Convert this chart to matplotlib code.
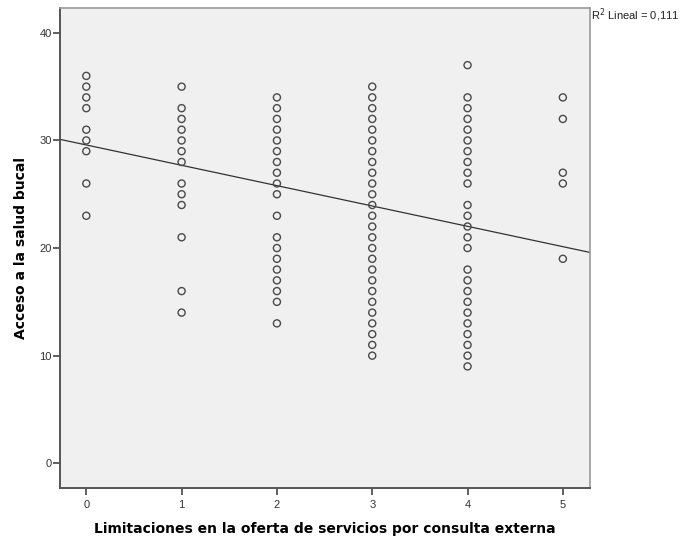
import matplotlib
matplotlib.use("Agg")
import matplotlib.pyplot as plt
import numpy as np

# observed values per category (x = limitaciones, y = acceso)
ACCESS_0 = [36, 35, 34, 33, 31, 30, 29, 26, 23]
ACCESS_1 = [35, 33, 32, 31, 30, 29, 28, 26, 25, 24, 21, 16, 14]
ACCESS_2 = [34, 33, 32, 31, 30, 29, 28, 27, 26, 25, 23, 21, 20, 19, 18, 17, 16, 15, 13]
ACCESS_3 = [35, 34, 33, 32, 31, 30, 29, 28, 27, 26, 25, 24, 23, 22, 21, 20, 19, 18, 17,
            16, 15, 14, 13, 12, 11, 10]
ACCESS_4 = [37, 34, 33, 32, 31, 30, 29, 28, 27, 26, 24, 23, 22, 21, 20, 18, 17, 16, 15,
            14, 13, 12, 11, 10, 9]
ACCESS_5 = [34, 32, 27, 26, 19]
CATEGORIES = [0, 1, 2, 3, 4, 5]

# linear fit
FIT_INTERCEPT = 29.58
FIT_SLOPE = -1.89
R2_TEXT = "R$^2$ Lineal = 0,111"

X_LABEL = "Limitaciones en la oferta de servicios por consulta externa"
Y_LABEL = "Acceso a la salud bucal"


def main():
    columns = [ACCESS_0, ACCESS_1, ACCESS_2, ACCESS_3, ACCESS_4, ACCESS_5]
    xs, ys = [], []
    for cat, vals in zip(CATEGORIES, columns):
        xs += [cat] * len(vals)
        ys += vals

    fig = plt.figure(figsize=(6.81, 5.40), dpi=100)
    ax = fig.add_axes([0.0881, 0.0963, 0.7783, 0.8887])
    ax.set_facecolor("#F0F0F0")

    ax.scatter(xs, ys, s=26, facecolors="none", edgecolors="#4a4a4a",
               linewidths=1.0, zorder=3)

    xlim = (-0.276, 5.285)
    ax.set_xlim(*xlim)
    ax.set_ylim(-2.3, 42.3)
    lx = np.array(xlim)
    ax.plot(lx, FIT_INTERCEPT + FIT_SLOPE * lx, color="#333333", linewidth=0.9, zorder=2)

    ax.set_xticks(CATEGORIES)
    ax.set_yticks([0, 10, 20, 30, 40])
    ax.tick_params(direction="out", length=5, width=1.2, color="#444444",
                   labelsize=8, labelcolor="#333333")
    for lab in ax.get_xticklabels() + ax.get_yticklabels():
        lab.set_family("Liberation Sans")
    ax.tick_params(axis="x", pad=4)
    ax.tick_params(axis="y", pad=1)

    for side in ("left", "bottom"):
        ax.spines[side].set_color("#555555")
        ax.spines[side].set_linewidth(1.4)
    for side in ("top", "right"):
        ax.spines[side].set_color("#999999")
        ax.spines[side].set_linewidth(1.2)

    ax.set_xlabel(X_LABEL, fontsize=10, fontweight="bold", family="DejaVu Sans", labelpad=8)
    ax.set_ylabel(Y_LABEL, fontsize=10, fontweight="bold", family="DejaVu Sans", labelpad=8)

    ax.text(1.002, 0.985, R2_TEXT, transform=ax.transAxes, fontsize=8,
            family="Liberation Sans", va="center", ha="left", color="#222222")

    fig.savefig("out.png", dpi=100)
    plt.close(fig)


if __name__ == "__main__":
    main()
